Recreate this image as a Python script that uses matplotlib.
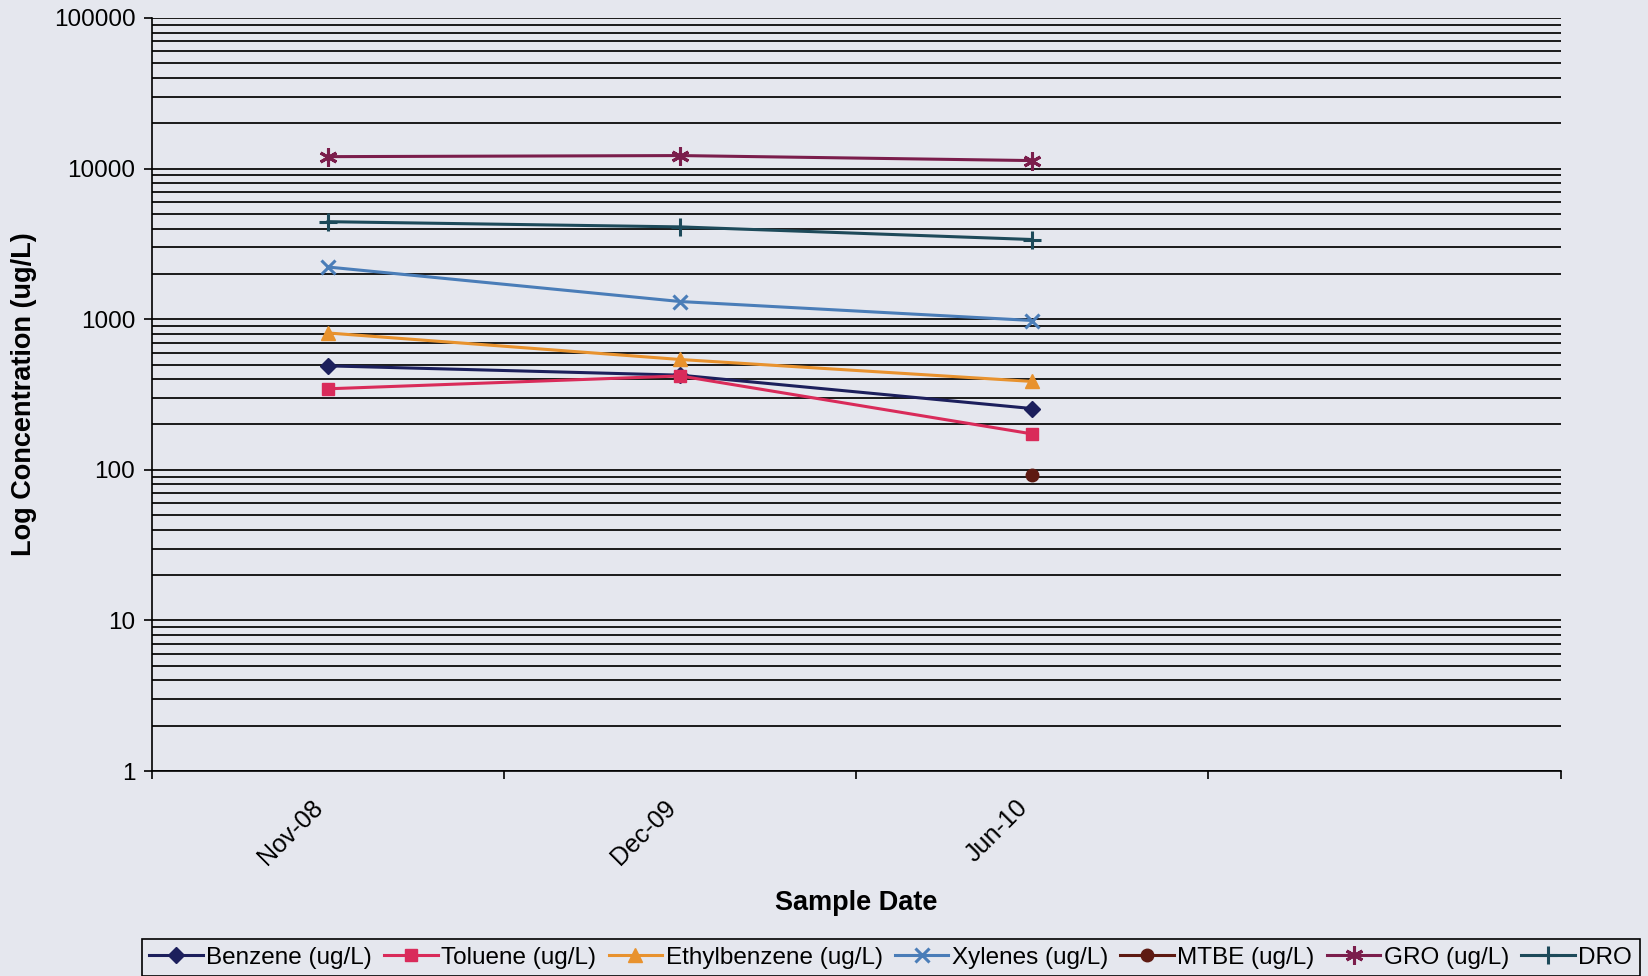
import numpy as np
import matplotlib.pyplot as plt
from matplotlib.ticker import FixedLocator, NullFormatter
from matplotlib.transforms import ScaledTranslation

plt.rcParams['font.family'] = ['Liberation Sans', 'DejaVu Sans']

# data
dates = ['Nov-08', 'Dec-09', 'Jun-10']
benzene = [490, 425, 255]
toluene = [345, 420, 173]
ethylbenzene = [810, 540, 386]
xylenes = [2220, 1310, 980]
mtbe = [np.nan, np.nan, 93]
gro = [12000, 12200, 11300]
dro = [4440, 4100, 3380]

series = [
    ('Benzene (ug/L)', benzene, '#1c1f5c', 'D', 8),
    ('Toluene (ug/L)', toluene, '#d92b5a', 's', 9),
    ('Ethylbenzene (ug/L)', ethylbenzene, '#e8922e', '^', 10),
    ('Xylenes (ug/L)', xylenes, '#4a7db8', 'x', 10),
    ('MTBE (ug/L)', mtbe, '#5e1a12', 'o', 9),
    ('GRO (ug/L)', gro, '#7b1e4c', (6, 2, 0), 13),
    ('DRO', dro, '#1d4a5a', '+', 13),
]

bg = '#e5e7ee'
fig = plt.figure(figsize=(16.48, 9.76), dpi=100, facecolor=bg)
ax = fig.add_axes([0.0922, 0.21, 0.8548, 0.7716])
ax.set_facecolor(bg)

x = np.arange(len(dates))
for name, vals, col, mk, ms in series:
    ax.plot(x, vals, color=col, marker=mk, markersize=ms, linewidth=2.2,
            markeredgewidth=2.2 if mk in ('x', '+', (6, 2, 0)) else 1,
            markeredgecolor=col, label=name)

ax.set_yscale('log')
ax.set_ylim(1, 100000)
ax.set_xlim(-0.5, 3.5)

ax.yaxis.set_major_locator(FixedLocator([1, 10, 100, 1000, 10000, 100000]))
ax.set_yticklabels(['1', '10', '100', '1000', '10000', '100000'])
minors = [m * 10 ** d for d in range(5) for m in range(2, 10)]
ax.yaxis.set_minor_locator(FixedLocator(minors))
ax.yaxis.set_minor_formatter(NullFormatter())
ax.grid(True, which='both', axis='y', color='#1a1a1a', linewidth=1.4)
ax.set_axisbelow(True)
ax.tick_params(axis='y', which='minor', length=0)
ax.tick_params(axis='y', which='major', length=6, width=1.2, labelsize=17.5, pad=6)

ax.set_xticks([-0.5, 0.5, 1.5, 2.5, 3.5])
ax.set_xticklabels([])
ax.set_xticks(x, minor=True)
ax.set_xticklabels(dates, minor=True, rotation=45, ha='right',
                   rotation_mode='anchor', fontsize=18)
ax.tick_params(axis='x', which='major', length=6, width=1.2)
ax.tick_params(axis='x', which='minor', length=0, pad=14)
shift = ScaledTranslation(-17 / 100, -5 / 100, fig.dpi_scale_trans)
for lbl in ax.get_xticklabels(minor=True):
    lbl.set_transform(lbl.get_transform() + shift)

for s in ['top', 'right']:
    ax.spines[s].set_visible(False)
for s in ['left', 'bottom']:
    ax.spines[s].set_linewidth(1.2)

ax.set_ylabel('Log Concentration (ug/L)', fontsize=19.5, fontweight='bold', labelpad=12)
ax.set_xlabel('Sample Date', fontsize=19.5, fontweight='bold', labelpad=15)

leg = fig.legend(loc='lower center', bbox_to_anchor=(0.5405, -0.0125), ncol=7,
                 fontsize=17.5, frameon=True, fancybox=False, edgecolor='black',
                 facecolor=bg, framealpha=1, handlelength=2.2, handletextpad=0.15,
                 columnspacing=0.5, borderpad=0.3)
leg.get_frame().set_linewidth(1.2)

fig.savefig('out.png', dpi=100, facecolor=bg)
